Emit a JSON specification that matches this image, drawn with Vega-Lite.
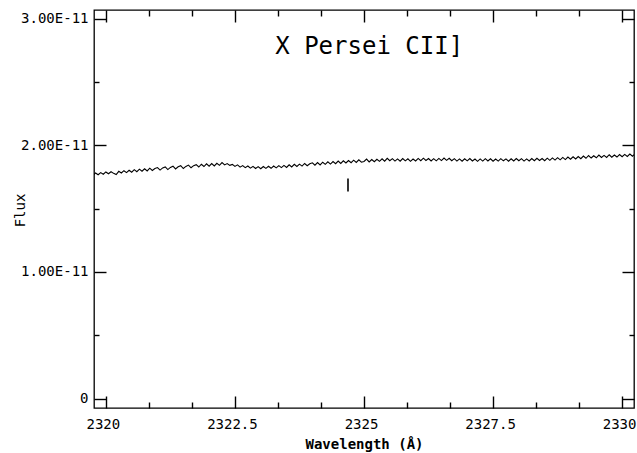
{
  "$schema": "https://vega.github.io/schema/vega-lite/v6.json",
  "width": 540,
  "height": 398,
  "autosize": "none",
  "padding": {"left": 94, "top": 10, "right": 3, "bottom": 45},
  "background": "white",
  "config": {
    "view": {"stroke": "black", "strokeWidth": 1.3},
    "axis": {"grid": false, "domain": false, "labelColor": "black", "titleColor": "black", "tickColor": "black", "labelFont": "DejaVu Sans Mono", "titleFont": "DejaVu Sans Mono", "zindex": 1}
  },
  "datasets": {
    "spectrum": [
      {"wl": 2319.77, "flux": 1.770e-11}, {"wl": 2319.80, "flux": 1.782e-11}, {"wl": 2319.85, "flux": 1.768e-11}, {"wl": 2319.90, "flux": 1.785e-11}, {"wl": 2319.95, "flux": 1.772e-11},
      {"wl": 2320.00, "flux": 1.790e-11}, {"wl": 2320.05, "flux": 1.776e-11}, {"wl": 2320.10, "flux": 1.792e-11}, {"wl": 2320.15, "flux": 1.779e-11}, {"wl": 2320.20, "flux": 1.770e-11},
      {"wl": 2320.25, "flux": 1.795e-11}, {"wl": 2320.30, "flux": 1.782e-11}, {"wl": 2320.35, "flux": 1.800e-11}, {"wl": 2320.40, "flux": 1.785e-11}, {"wl": 2320.45, "flux": 1.803e-11},
      {"wl": 2320.50, "flux": 1.788e-11}, {"wl": 2320.55, "flux": 1.808e-11}, {"wl": 2320.60, "flux": 1.792e-11}, {"wl": 2320.65, "flux": 1.812e-11}, {"wl": 2320.70, "flux": 1.796e-11},
      {"wl": 2320.75, "flux": 1.815e-11}, {"wl": 2320.80, "flux": 1.798e-11}, {"wl": 2320.85, "flux": 1.820e-11}, {"wl": 2320.90, "flux": 1.802e-11}, {"wl": 2320.95, "flux": 1.817e-11},
      {"wl": 2321.00, "flux": 1.825e-11}, {"wl": 2321.05, "flux": 1.805e-11}, {"wl": 2321.10, "flux": 1.822e-11}, {"wl": 2321.15, "flux": 1.830e-11}, {"wl": 2321.20, "flux": 1.809e-11},
      {"wl": 2321.25, "flux": 1.826e-11}, {"wl": 2321.30, "flux": 1.836e-11}, {"wl": 2321.35, "flux": 1.814e-11}, {"wl": 2321.40, "flux": 1.831e-11}, {"wl": 2321.45, "flux": 1.840e-11},
      {"wl": 2321.50, "flux": 1.817e-11}, {"wl": 2321.55, "flux": 1.834e-11}, {"wl": 2321.60, "flux": 1.844e-11}, {"wl": 2321.65, "flux": 1.823e-11}, {"wl": 2321.70, "flux": 1.840e-11},
      {"wl": 2321.75, "flux": 1.848e-11}, {"wl": 2321.80, "flux": 1.829e-11}, {"wl": 2321.85, "flux": 1.851e-11}, {"wl": 2321.90, "flux": 1.833e-11}, {"wl": 2321.95, "flux": 1.854e-11},
      {"wl": 2322.00, "flux": 1.836e-11}, {"wl": 2322.05, "flux": 1.856e-11}, {"wl": 2322.10, "flux": 1.838e-11}, {"wl": 2322.15, "flux": 1.858e-11}, {"wl": 2322.20, "flux": 1.842e-11},
      {"wl": 2322.25, "flux": 1.864e-11}, {"wl": 2322.30, "flux": 1.846e-11}, {"wl": 2322.35, "flux": 1.856e-11}, {"wl": 2322.40, "flux": 1.842e-11}, {"wl": 2322.45, "flux": 1.850e-11},
      {"wl": 2322.50, "flux": 1.834e-11}, {"wl": 2322.55, "flux": 1.846e-11}, {"wl": 2322.60, "flux": 1.828e-11}, {"wl": 2322.65, "flux": 1.840e-11}, {"wl": 2322.70, "flux": 1.824e-11},
      {"wl": 2322.75, "flux": 1.837e-11}, {"wl": 2322.80, "flux": 1.820e-11}, {"wl": 2322.85, "flux": 1.834e-11}, {"wl": 2322.90, "flux": 1.817e-11}, {"wl": 2322.95, "flux": 1.832e-11},
      {"wl": 2323.00, "flux": 1.816e-11}, {"wl": 2323.05, "flux": 1.833e-11}, {"wl": 2323.10, "flux": 1.818e-11}, {"wl": 2323.15, "flux": 1.835e-11}, {"wl": 2323.20, "flux": 1.819e-11},
      {"wl": 2323.25, "flux": 1.837e-11}, {"wl": 2323.30, "flux": 1.822e-11}, {"wl": 2323.35, "flux": 1.840e-11}, {"wl": 2323.40, "flux": 1.824e-11}, {"wl": 2323.45, "flux": 1.842e-11},
      {"wl": 2323.50, "flux": 1.826e-11}, {"wl": 2323.55, "flux": 1.847e-11}, {"wl": 2323.60, "flux": 1.830e-11}, {"wl": 2323.65, "flux": 1.850e-11}, {"wl": 2323.70, "flux": 1.833e-11},
      {"wl": 2323.75, "flux": 1.852e-11}, {"wl": 2323.80, "flux": 1.836e-11}, {"wl": 2323.85, "flux": 1.857e-11}, {"wl": 2323.90, "flux": 1.839e-11}, {"wl": 2323.95, "flux": 1.855e-11},
      {"wl": 2324.00, "flux": 1.862e-11}, {"wl": 2324.05, "flux": 1.843e-11}, {"wl": 2324.10, "flux": 1.864e-11}, {"wl": 2324.15, "flux": 1.846e-11}, {"wl": 2324.20, "flux": 1.867e-11},
      {"wl": 2324.25, "flux": 1.850e-11}, {"wl": 2324.30, "flux": 1.870e-11}, {"wl": 2324.35, "flux": 1.852e-11}, {"wl": 2324.40, "flux": 1.872e-11}, {"wl": 2324.45, "flux": 1.855e-11},
      {"wl": 2324.50, "flux": 1.876e-11}, {"wl": 2324.55, "flux": 1.857e-11}, {"wl": 2324.60, "flux": 1.878e-11}, {"wl": 2324.65, "flux": 1.861e-11}, {"wl": 2324.70, "flux": 1.880e-11},
      {"wl": 2324.75, "flux": 1.863e-11}, {"wl": 2324.80, "flux": 1.883e-11}, {"wl": 2324.85, "flux": 1.865e-11}, {"wl": 2324.90, "flux": 1.886e-11}, {"wl": 2324.95, "flux": 1.867e-11},
      {"wl": 2325.00, "flux": 1.873e-11}, {"wl": 2325.05, "flux": 1.892e-11}, {"wl": 2325.10, "flux": 1.869e-11}, {"wl": 2325.15, "flux": 1.888e-11}, {"wl": 2325.20, "flux": 1.871e-11},
      {"wl": 2325.25, "flux": 1.890e-11}, {"wl": 2325.30, "flux": 1.874e-11}, {"wl": 2325.35, "flux": 1.894e-11}, {"wl": 2325.40, "flux": 1.875e-11}, {"wl": 2325.45, "flux": 1.898e-11},
      {"wl": 2325.50, "flux": 1.879e-11}, {"wl": 2325.55, "flux": 1.895e-11}, {"wl": 2325.60, "flux": 1.876e-11}, {"wl": 2325.65, "flux": 1.893e-11}, {"wl": 2325.70, "flux": 1.875e-11},
      {"wl": 2325.75, "flux": 1.896e-11}, {"wl": 2325.80, "flux": 1.878e-11}, {"wl": 2325.85, "flux": 1.894e-11}, {"wl": 2325.90, "flux": 1.874e-11}, {"wl": 2325.95, "flux": 1.892e-11},
      {"wl": 2326.00, "flux": 1.877e-11}, {"wl": 2326.05, "flux": 1.897e-11}, {"wl": 2326.10, "flux": 1.879e-11}, {"wl": 2326.15, "flux": 1.899e-11}, {"wl": 2326.20, "flux": 1.881e-11},
      {"wl": 2326.25, "flux": 1.896e-11}, {"wl": 2326.30, "flux": 1.877e-11}, {"wl": 2326.35, "flux": 1.895e-11}, {"wl": 2326.40, "flux": 1.878e-11}, {"wl": 2326.45, "flux": 1.897e-11},
      {"wl": 2326.50, "flux": 1.880e-11}, {"wl": 2326.55, "flux": 1.900e-11}, {"wl": 2326.60, "flux": 1.882e-11}, {"wl": 2326.65, "flux": 1.898e-11}, {"wl": 2326.70, "flux": 1.879e-11},
      {"wl": 2326.75, "flux": 1.895e-11}, {"wl": 2326.80, "flux": 1.876e-11}, {"wl": 2326.85, "flux": 1.893e-11}, {"wl": 2326.90, "flux": 1.875e-11}, {"wl": 2326.95, "flux": 1.894e-11},
      {"wl": 2327.00, "flux": 1.878e-11}, {"wl": 2327.05, "flux": 1.896e-11}, {"wl": 2327.10, "flux": 1.877e-11}, {"wl": 2327.15, "flux": 1.892e-11}, {"wl": 2327.20, "flux": 1.874e-11},
      {"wl": 2327.25, "flux": 1.893e-11}, {"wl": 2327.30, "flux": 1.876e-11}, {"wl": 2327.35, "flux": 1.895e-11}, {"wl": 2327.40, "flux": 1.877e-11}, {"wl": 2327.45, "flux": 1.894e-11},
      {"wl": 2327.50, "flux": 1.875e-11}, {"wl": 2327.55, "flux": 1.892e-11}, {"wl": 2327.60, "flux": 1.876e-11}, {"wl": 2327.65, "flux": 1.895e-11}, {"wl": 2327.70, "flux": 1.878e-11},
      {"wl": 2327.75, "flux": 1.893e-11}, {"wl": 2327.80, "flux": 1.875e-11}, {"wl": 2327.85, "flux": 1.894e-11}, {"wl": 2327.90, "flux": 1.877e-11}, {"wl": 2327.95, "flux": 1.896e-11},
      {"wl": 2328.00, "flux": 1.879e-11}, {"wl": 2328.05, "flux": 1.895e-11}, {"wl": 2328.10, "flux": 1.876e-11}, {"wl": 2328.15, "flux": 1.893e-11}, {"wl": 2328.20, "flux": 1.877e-11},
      {"wl": 2328.25, "flux": 1.896e-11}, {"wl": 2328.30, "flux": 1.879e-11}, {"wl": 2328.35, "flux": 1.898e-11}, {"wl": 2328.40, "flux": 1.881e-11}, {"wl": 2328.45, "flux": 1.896e-11},
      {"wl": 2328.50, "flux": 1.879e-11}, {"wl": 2328.55, "flux": 1.899e-11}, {"wl": 2328.60, "flux": 1.882e-11}, {"wl": 2328.65, "flux": 1.901e-11}, {"wl": 2328.70, "flux": 1.884e-11},
      {"wl": 2328.75, "flux": 1.903e-11}, {"wl": 2328.80, "flux": 1.886e-11}, {"wl": 2328.85, "flux": 1.905e-11}, {"wl": 2328.90, "flux": 1.888e-11}, {"wl": 2328.95, "flux": 1.908e-11},
      {"wl": 2329.00, "flux": 1.891e-11}, {"wl": 2329.05, "flux": 1.910e-11}, {"wl": 2329.10, "flux": 1.893e-11}, {"wl": 2329.15, "flux": 1.912e-11}, {"wl": 2329.20, "flux": 1.895e-11},
      {"wl": 2329.25, "flux": 1.916e-11}, {"wl": 2329.30, "flux": 1.898e-11}, {"wl": 2329.35, "flux": 1.920e-11}, {"wl": 2329.40, "flux": 1.900e-11}, {"wl": 2329.45, "flux": 1.918e-11},
      {"wl": 2329.50, "flux": 1.902e-11}, {"wl": 2329.55, "flux": 1.923e-11}, {"wl": 2329.60, "flux": 1.904e-11}, {"wl": 2329.65, "flux": 1.921e-11}, {"wl": 2329.70, "flux": 1.905e-11},
      {"wl": 2329.75, "flux": 1.926e-11}, {"wl": 2329.80, "flux": 1.907e-11}, {"wl": 2329.85, "flux": 1.924e-11}, {"wl": 2329.90, "flux": 1.908e-11}, {"wl": 2329.95, "flux": 1.928e-11},
      {"wl": 2330.00, "flux": 1.910e-11}, {"wl": 2330.05, "flux": 1.929e-11}, {"wl": 2330.10, "flux": 1.912e-11}, {"wl": 2330.15, "flux": 1.931e-11}, {"wl": 2330.20, "flux": 1.914e-11},
      {"wl": 2330.23, "flux": 1.926e-11}
    ],
    "marker": [{"wl": 2324.69, "lo": 1.636e-11, "hi": 1.739e-11}],
    "label": [{"wl": 2325.1, "flux": 2.78e-11, "text": "X Persei CII]"}]
  },
  "resolve": {"axis": {"x": "independent", "y": "independent"}},
  "layer": [
    {
      "data": {"name": "spectrum"},
      "mark": {"type": "line", "color": "black", "strokeWidth": 1.1, "clip": true},
      "encoding": {
        "x": {
          "field": "wl", "type": "quantitative",
          "scale": {"domain": [2319.77, 2330.23], "nice": false, "zero": false},
          "axis": {"orient": "bottom", "values": [2320, 2322.5, 2325, 2327.5, 2330], "ticks": false, "labelPadding": 9, "labelOffset": -3, "labelFontSize": 14, "format": ".1~f", "title": "Wavelength (Å)", "titleFontSize": 14, "titleFontWeight": "bold", "titlePadding": 6}
        },
        "y": {
          "field": "flux", "type": "quantitative",
          "scale": {"domain": [-0.074e-11, 3.069e-11], "nice": false, "zero": false},
          "axis": {"orient": "left", "values": [0, 1e-11, 2e-11, 3e-11], "ticks": false, "labelPadding": 6, "labelFontSize": 14, "labelExpr": "datum.value == 0 ? '0' : format(datum.value / 1e-11, '.2f') + 'E-11'", "title": "Flux", "titleFontSize": 14, "titleFontWeight": "normal", "titleX": -70, "titleY": 200, "titleAngle": -90, "titleAlign": "center", "titleBaseline": "alphabetic"}
        }
      }
    },
    {
      "data": {"name": "marker"},
      "mark": {"type": "rule", "color": "black", "strokeWidth": 1.6},
      "encoding": {
        "x": {"field": "wl", "type": "quantitative", "axis": {"orient": "top", "offset": -398, "values": [2320.8333, 2321.6667, 2323.3333, 2324.1667, 2325.8333, 2326.6667, 2328.3333, 2329.1667], "labels": false, "tickSize": 6, "tickColor": "black", "tickWidth": 1.4, "title": null}},
        "y": {"field": "lo", "type": "quantitative", "axis": {"orient": "right", "offset": -540, "values": [0.5e-11, 1.5e-11, 2.5e-11], "labels": false, "tickSize": 5, "tickColor": "black", "tickWidth": 1.4, "title": null}},
        "y2": {"field": "hi"}
      }
    },
    {
      "data": {"name": "label"},
      "mark": {"type": "text", "font": "DejaVu Sans Mono", "fontSize": 24, "color": "black", "align": "center", "baseline": "middle"},
      "encoding": {
        "x": {"field": "wl", "type": "quantitative", "axis": {"orient": "top", "offset": -398, "values": [2320, 2322.5, 2325, 2327.5, 2330], "labels": false, "tickSize": 12, "tickColor": "black", "tickWidth": 1.4, "title": null}},
        "y": {"field": "flux", "type": "quantitative", "axis": {"orient": "right", "offset": -540, "values": [0, 1e-11, 2e-11, 3e-11], "labels": false, "tickSize": 12, "tickColor": "black", "tickWidth": 1.4, "title": null}},
        "text": {"field": "text"}
      }
    },
    {
      "data": {"name": "label"},
      "mark": {"type": "point", "opacity": 0},
      "encoding": {
        "x": {"field": "wl", "type": "quantitative", "axis": {"orient": "bottom", "offset": -398, "values": [2320.8333, 2321.6667, 2323.3333, 2324.1667, 2325.8333, 2326.6667, 2328.3333, 2329.1667], "labels": false, "tickSize": 6, "tickColor": "black", "tickWidth": 1.4, "title": null}},
        "y": {"field": "flux", "type": "quantitative", "axis": {"orient": "left", "offset": -540, "values": [0.5e-11, 1.5e-11, 2.5e-11], "labels": false, "tickSize": 5, "tickColor": "black", "tickWidth": 1.4, "title": null}}
      }
    },
    {
      "data": {"name": "label"},
      "mark": {"type": "point", "opacity": 0},
      "encoding": {
        "x": {"field": "wl", "type": "quantitative", "axis": {"orient": "bottom", "offset": -398, "values": [2320, 2322.5, 2325, 2327.5, 2330], "labels": false, "tickSize": 12, "tickColor": "black", "tickWidth": 1.4, "title": null}},
        "y": {"field": "flux", "type": "quantitative", "axis": {"orient": "left", "offset": -540, "values": [0, 1e-11, 2e-11, 3e-11], "labels": false, "tickSize": 12, "tickColor": "black", "tickWidth": 1.4, "title": null}}
      }
    }
  ]
}
